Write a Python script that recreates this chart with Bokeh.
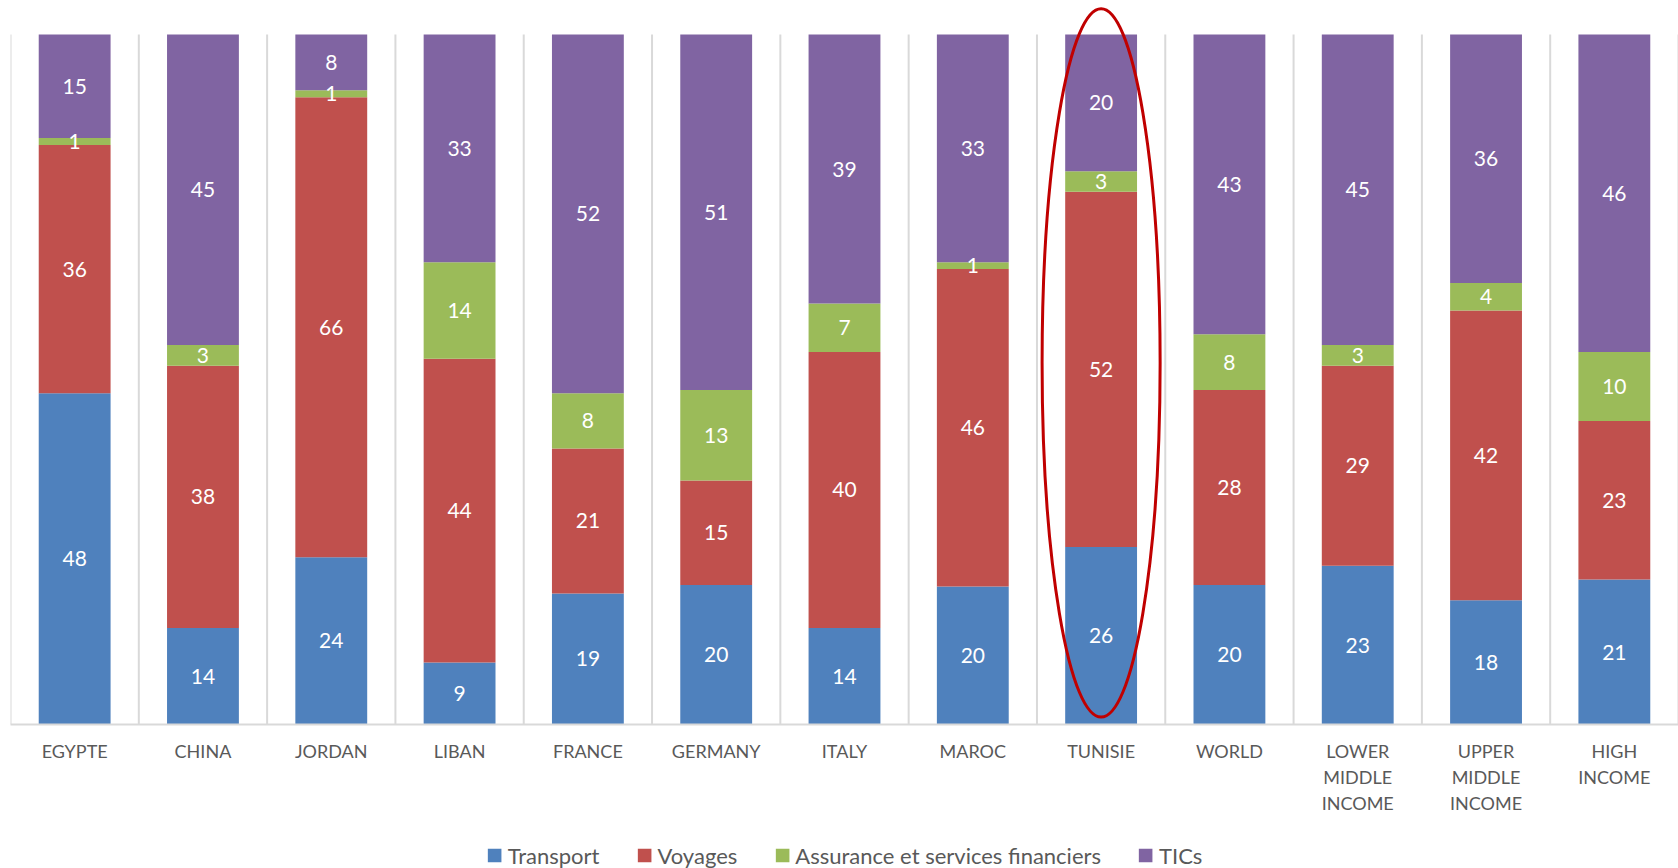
from bokeh.plotting import figure
from bokeh.layouts import column
from bokeh.models import ColumnDataSource, FactorRange, Range1d, LabelSet, Legend, LegendItem
from bokeh.core.properties import value
from bokeh.embed import file_html
from bokeh.resources import INLINE

categories = ["EGYPTE", "CHINA", "JORDAN", "LIBAN", "FRANCE", "GERMANY", "ITALY",
              "MAROC", "TUNISIE", "WORLD", "LOWER\nMIDDLE\nINCOME",
              "UPPER\nMIDDLE\nINCOME", "HIGH\nINCOME"]
transport = [48, 14, 24, 9, 19, 20, 14, 20, 26, 20, 23, 18, 21]
voyages = [36, 38, 66, 44, 21, 15, 40, 46, 52, 28, 29, 42, 23]
assurance = [1, 3, 1, 14, 8, 13, 7, 1, 3, 8, 3, 4, 10]
tics = [15, 45, 8, 33, 52, 51, 39, 33, 20, 43, 45, 36, 46]
series_names = ["Transport", "Voyages", "Assurance et services financiers", "TICs"]
colors = ["#4F81BD", "#C0504D", "#9BBB59", "#8064A2"]
highlight = "TUNISIE"

series = [transport, voyages, assurance, tics]
totals = [sum(col) for col in zip(*series)]
keys = ["s0", "s1", "s2", "s3"]
data = {"cat": categories}
for k, s in zip(keys, series):
    data[k] = [v / t * 100 for v, t in zip(s, totals)]
src = ColumnDataSource(data)

# label positions (segment centres of the 100% stack)
lx, ly, lt = [], [], []
cum = [0.0] * len(categories)
for k, s in zip(keys, series):
    for i, c in enumerate(categories):
        h = data[k][i]
        lx.append(c)
        ly.append(cum[i] + h / 2)
        lt.append(str(s[i]))
        cum[i] += h
lsrc = ColumnDataSource(dict(x=lx, y=ly, t=lt))

W = 1678
p = figure(x_range=FactorRange(factors=categories), y_range=Range1d(0, 104.93),
           width=W, height=842, output_backend="svg", toolbar_location=None,
           min_border_left=10, min_border_right=0, min_border_top=0, min_border_bottom=118)
p.outline_line_color = None
p.xgrid.visible = False
p.ygrid.visible = False
p.yaxis.visible = False

# category separators
sep_x = [(c, -0.5) for c in categories] + [(categories[-1], 0.5)]
p.segment(x0=sep_x, x1=sep_x, y0=[0] * len(sep_x), y1=[100] * len(sep_x),
          line_color="#D9D9D9", line_width=2)

rs = p.vbar_stack(keys, x="cat", width=0.56, color=colors, line_color=None, source=src)

p.add_layout(LabelSet(x="x", y="y", text="t", source=lsrc, text_align="center",
                      text_baseline="middle", text_color="white",
                      text_font=value("Lato"), text_font_size="21px"))

p.ellipse(x=[highlight], y=[52.4], width=0.92, height=102.8, fill_color=None,
          line_color="#C00000", line_width=3)

ax = p.xaxis[0]
ax.axis_line_color = "#D9D9D9"
ax.axis_line_width = 2
ax.major_tick_line_color = None
ax.minor_tick_line_color = None
ax.major_label_standoff = 9
ax.major_label_text_font = "Lato"
ax.major_label_text_font_size = "18px"
ax.major_label_text_color = "#595959"

# legend strip below the chart
lp = figure(x_range=p.x_range, y_range=Range1d(0, 1), width=W, height=26,
            output_backend="svg", toolbar_location=None,
            min_border_left=10, min_border_right=0, min_border_top=0, min_border_bottom=0)
lp.outline_line_color = None
lp.xaxis.visible = False
lp.yaxis.visible = False
lp.xgrid.visible = False
lp.ygrid.visible = False
lrs = lp.vbar_stack(keys, x="cat", width=0.56, color=colors, line_color=None, source=src)
for r in lrs:
    r.visible = False

legend = Legend(items=[LegendItem(label=n, renderers=[r]) for n, r in zip(series_names, lrs)],
                orientation="horizontal", location="center",
                glyph_width=17, glyph_height=17, label_height=22,
                label_text_font="Lato", label_text_font_size="22px",
                label_text_color="#595959", spacing=36, label_standoff=5,
                border_line_color=None, background_fill_alpha=0,
                inactive_fill_alpha=0, padding=0, margin=0)
lp.add_layout(legend, "center")

layout = column(p, lp, spacing=0)
open("out.html", "w").write(file_html(layout, INLINE))
